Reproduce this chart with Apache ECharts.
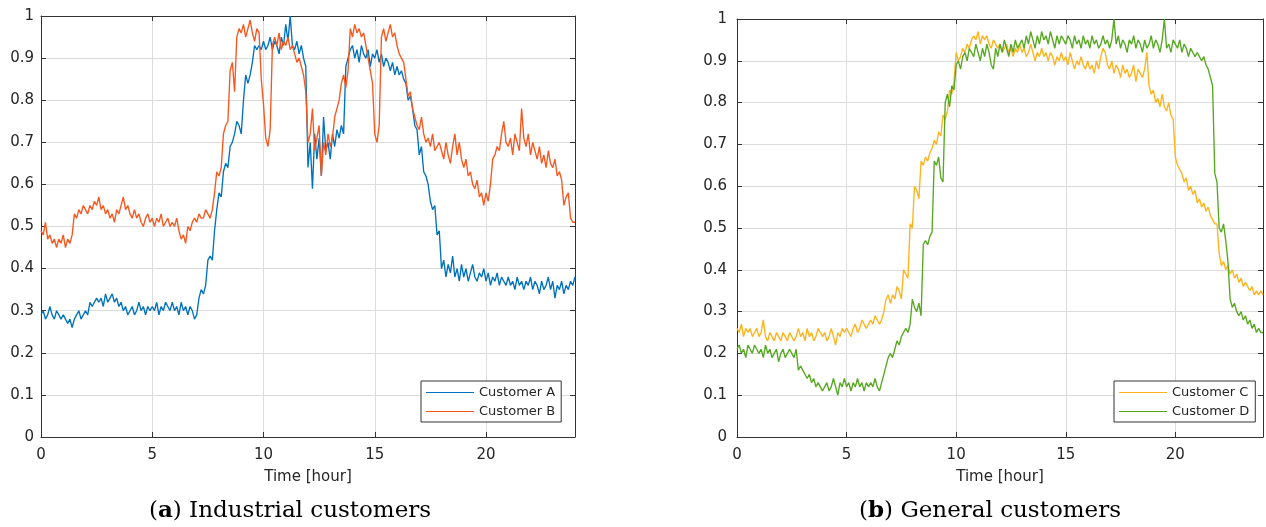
<!DOCTYPE html>
<html>
<head>
<meta charset="utf-8">
<script src="https://cdn.jsdelivr.net/npm/echarts@6/dist/echarts.min.js"></script>
<style>
  html, body { margin: 0; padding: 0; background: #fff; }
  #chart { width: 1266px; height: 527px; }
</style>
</head>
<body>
<div id="chart"></div>
<script>
// Normalised load profiles, one sample every 0.1 h from 0 h to 24 h (241 samples).
const SAMPLE_STEP_H = 0.1;

const customerA = [
  0.29,0.30,0.28,0.29,0.31,0.29,0.28,0.30,0.29,0.28,
  0.29,0.28,0.27,0.28,0.26,0.28,0.29,0.30,0.28,0.29,
  0.30,0.29,0.32,0.31,0.32,0.33,0.32,0.33,0.31,0.34,
  0.32,0.33,0.34,0.32,0.33,0.31,0.32,0.30,0.31,0.29,
  0.30,0.31,0.29,0.30,0.32,0.30,0.31,0.29,0.31,0.30,
  0.31,0.30,0.32,0.29,0.31,0.30,0.32,0.31,0.30,0.32,
  0.30,0.31,0.29,0.32,0.30,0.31,0.29,0.31,0.30,0.28,
  0.29,0.33,0.35,0.34,0.36,0.42,0.43,0.42,0.49,0.54,
  0.58,0.57,0.63,0.65,0.64,0.69,0.70,0.72,0.75,0.74,
  0.72,0.80,0.86,0.84,0.86,0.89,0.93,0.92,0.93,0.92,
  0.94,0.92,0.93,0.95,0.92,0.94,0.93,0.91,0.95,0.93,
  0.98,0.94,1.00,0.93,0.92,0.94,0.91,0.93,0.90,0.88,
  0.64,0.70,0.59,0.72,0.66,0.71,0.62,0.76,0.68,0.70,
  0.66,0.72,0.69,0.73,0.71,0.74,0.72,0.88,0.90,0.92,
  0.93,0.90,0.92,0.89,0.93,0.91,0.90,0.92,0.88,0.91,
  0.90,0.92,0.89,0.91,0.88,0.90,0.89,0.87,0.89,0.86,
  0.88,0.86,0.87,0.85,0.84,0.80,0.81,0.78,0.74,0.73,
  0.67,0.69,0.63,0.62,0.60,0.56,0.54,0.55,0.48,0.49,
  0.40,0.42,0.38,0.41,0.39,0.43,0.38,0.40,0.37,0.41,
  0.38,0.40,0.37,0.39,0.41,0.38,0.37,0.39,0.38,0.40,
  0.37,0.39,0.36,0.38,0.37,0.39,0.36,0.38,0.37,0.36,
  0.38,0.36,0.37,0.35,0.38,0.36,0.37,0.35,0.37,0.36,
  0.38,0.35,0.37,0.36,0.34,0.37,0.35,0.36,0.38,0.35,
  0.37,0.33,0.36,0.35,0.37,0.34,0.36,0.35,0.37,0.36,
  0.38
];

const customerB = [
  0.49,0.48,0.51,0.47,0.48,0.46,0.47,0.45,0.47,0.46,
  0.48,0.45,0.47,0.46,0.48,0.53,0.52,0.54,0.53,0.55,
  0.54,0.53,0.55,0.54,0.56,0.55,0.57,0.54,0.55,0.53,
  0.54,0.52,0.53,0.51,0.54,0.53,0.55,0.57,0.54,0.55,
  0.53,0.52,0.54,0.52,0.53,0.51,0.50,0.52,0.53,0.51,
  0.52,0.50,0.52,0.51,0.53,0.50,0.51,0.52,0.50,0.51,
  0.50,0.52,0.49,0.47,0.48,0.46,0.50,0.49,0.51,0.52,
  0.51,0.53,0.52,0.52,0.54,0.53,0.52,0.54,0.58,0.63,
  0.62,0.64,0.72,0.74,0.75,0.87,0.89,0.82,0.95,0.97,
  0.96,0.98,0.95,0.97,0.99,0.96,0.94,0.97,0.96,0.85,
  0.79,0.71,0.69,0.73,0.93,0.95,0.93,0.96,0.92,0.94,
  0.93,0.95,0.92,0.93,0.91,0.89,0.90,0.88,0.86,0.82,
  0.70,0.72,0.78,0.68,0.71,0.74,0.62,0.70,0.67,0.72,
  0.69,0.71,0.76,0.78,0.80,0.84,0.86,0.83,0.87,0.97,
  0.95,0.98,0.96,0.97,0.95,0.96,0.93,0.90,0.87,0.84,
  0.72,0.70,0.74,0.95,0.97,0.94,0.96,0.98,0.95,0.96,
  0.93,0.91,0.90,0.89,0.85,0.81,0.82,0.78,0.76,0.74,
  0.73,0.76,0.72,0.70,0.71,0.69,0.72,0.68,0.69,0.70,
  0.68,0.66,0.70,0.67,0.65,0.69,0.72,0.67,0.70,0.66,
  0.64,0.66,0.62,0.63,0.60,0.59,0.61,0.57,0.58,0.55,
  0.58,0.56,0.60,0.66,0.67,0.69,0.68,0.72,0.75,0.70,
  0.69,0.71,0.67,0.72,0.70,0.68,0.78,0.71,0.69,0.72,
  0.67,0.70,0.68,0.66,0.69,0.65,0.67,0.64,0.68,0.65,
  0.64,0.66,0.62,0.63,0.61,0.55,0.57,0.58,0.52,0.51,
  0.51
];

const customerC = [
  0.26,0.25,0.27,0.24,0.26,0.25,0.26,0.24,0.25,0.26,
  0.24,0.25,0.28,0.24,0.23,0.25,0.24,0.23,0.25,0.24,
  0.23,0.25,0.24,0.23,0.25,0.24,0.23,0.24,0.26,0.24,
  0.25,0.23,0.26,0.24,0.25,0.23,0.24,0.26,0.25,0.24,
  0.25,0.23,0.24,0.26,0.24,0.22,0.25,0.24,0.26,0.25,
  0.26,0.25,0.24,0.26,0.27,0.25,0.26,0.28,0.27,0.26,
  0.27,0.28,0.27,0.29,0.28,0.27,0.28,0.30,0.33,0.34,
  0.32,0.34,0.33,0.36,0.35,0.33,0.40,0.39,0.38,0.51,
  0.50,0.60,0.59,0.57,0.66,0.65,0.67,0.66,0.68,0.69,
  0.71,0.70,0.73,0.72,0.77,0.76,0.78,0.83,0.82,0.85,
  0.92,0.90,0.91,0.93,0.92,0.94,0.93,0.95,0.96,0.95,
  0.97,0.94,0.96,0.95,0.96,0.94,0.93,0.95,0.94,0.93,
  0.94,0.92,0.93,0.94,0.92,0.93,0.91,0.93,0.92,0.94,
  0.92,0.93,0.91,0.92,0.94,0.92,0.90,0.92,0.91,0.93,
  0.91,0.92,0.90,0.92,0.91,0.89,0.91,0.90,0.92,0.90,
  0.91,0.89,0.92,0.90,0.88,0.90,0.89,0.91,0.89,0.88,
  0.90,0.88,0.89,0.87,0.90,0.88,0.91,0.93,0.92,0.89,
  0.88,0.90,0.87,0.89,0.88,0.86,0.89,0.87,0.88,0.86,
  0.87,0.89,0.85,0.88,0.87,0.86,0.88,0.92,0.84,0.82,
  0.83,0.80,0.81,0.79,0.82,0.79,0.78,0.80,0.77,0.76,
  0.67,0.65,0.64,0.63,0.61,0.62,0.59,0.60,0.58,0.59,
  0.56,0.57,0.55,0.56,0.54,0.55,0.53,0.52,0.51,0.51,
  0.44,0.41,0.42,0.40,0.41,0.39,0.40,0.38,0.39,0.37,
  0.38,0.36,0.37,0.36,0.35,0.36,0.34,0.35,0.34,0.35,
  0.34
];

const customerD = [
  0.21,0.22,0.20,0.21,0.19,0.22,0.21,0.20,0.22,0.21,
  0.20,0.21,0.19,0.22,0.20,0.21,0.19,0.20,0.21,0.18,
  0.20,0.21,0.19,0.20,0.21,0.20,0.19,0.21,0.16,0.17,
  0.16,0.15,0.14,0.15,0.13,0.14,0.12,0.13,0.12,0.11,
  0.12,0.13,0.11,0.12,0.14,0.12,0.10,0.13,0.12,0.14,
  0.12,0.13,0.11,0.13,0.12,0.14,0.12,0.13,0.11,0.13,
  0.12,0.13,0.12,0.14,0.12,0.11,0.13,0.15,0.17,0.19,
  0.20,0.19,0.21,0.23,0.22,0.24,0.25,0.26,0.25,0.27,
  0.33,0.31,0.30,0.32,0.29,0.46,0.47,0.46,0.48,0.49,
  0.66,0.65,0.67,0.62,0.61,0.80,0.82,0.79,0.84,0.83,
  0.89,0.90,0.88,0.91,0.92,0.90,0.93,0.92,0.91,0.94,
  0.92,0.90,0.93,0.91,0.94,0.92,0.89,0.88,0.93,0.91,
  0.94,0.92,0.95,0.93,0.91,0.94,0.92,0.95,0.93,0.94,
  0.95,0.93,0.96,0.94,0.97,0.95,0.93,0.96,0.94,0.97,
  0.95,0.96,0.94,0.97,0.95,0.93,0.96,0.94,0.96,0.95,
  0.94,0.96,0.95,0.93,0.96,0.94,0.95,0.93,0.96,0.94,
  0.95,0.93,0.96,0.94,0.95,0.93,0.94,0.96,0.94,0.95,
  0.93,0.95,1.00,0.94,0.96,0.93,0.95,0.94,0.92,0.95,
  0.94,0.96,0.93,0.95,0.94,0.92,0.95,0.93,0.94,0.96,
  0.93,0.95,0.94,0.92,0.95,1.00,0.93,0.94,0.92,0.95,
  0.94,0.93,0.95,0.92,0.94,0.93,0.91,0.93,0.92,0.91,
  0.92,0.91,0.90,0.91,0.89,0.88,0.86,0.84,0.63,0.61,
  0.50,0.49,0.51,0.47,0.42,0.33,0.31,0.32,0.30,0.29,
  0.30,0.28,0.29,0.27,0.28,0.26,0.27,0.25,0.26,0.25,
  0.25
];

const xTicks = [0, 5, 10, 15, 20];
const panelCaptions = [
  { tag: 'a', text: 'Industrial customers' },
  { tag: 'b', text: 'General customers' }
];
const seriesNames = ['Customer A', 'Customer B', 'Customer C', 'Customer D'];
const seriesColors = ['#0072BD', '#F8561C', '#FFB21A', '#55A81F'];

const AXIS_COLOR = '#333333';
const LABEL_COLOR = '#262626';
const GRID_COLOR = '#dcdcdc';
const SANS = 'DejaVu Sans';
const SERIF = 'DejaVu Serif';

function toPoints(values) {
  return values.map((v, i) => [+(i * SAMPLE_STEP_H).toFixed(1), v]);
}

const panels = [
  { left: 41, top: 16, width: 534, height: 421, yMargin: 7 },
  { left: 737, top: 19, width: 531, height: 418, yMargin: 10 }
];

const grids = panels.map(p => ({ left: p.left, top: p.top, width: p.width, height: p.height, containLabel: false }));

const xAxes = [];
const yAxes = [];
panels.forEach((p, g) => {
  // bottom axis with labels and grid lines
  xAxes.push({
    gridIndex: g, type: 'value', min: 0, max: 24, interval: 5, position: 'bottom',
    name: 'Time [hour]', nameLocation: 'middle', nameGap: 33,
    nameTextStyle: { fontFamily: SANS, fontSize: 15, color: LABEL_COLOR },
    axisLine: { show: true, onZero: false, lineStyle: { color: AXIS_COLOR, width: 1 } },
    axisTick: { show: true, inside: true, length: 5, lineStyle: { color: AXIS_COLOR } },
    axisLabel: {
      margin: 11, fontFamily: SANS, fontSize: 15, color: LABEL_COLOR,
      formatter: v => (xTicks.indexOf(v) >= 0 ? String(v) : '')
    },
    splitLine: { show: true, lineStyle: { color: GRID_COLOR, width: 1 } }
  });
  // top box edge with inward ticks
  xAxes.push({
    gridIndex: g, type: 'value', min: 0, max: 24, interval: 5, position: 'top',
    axisLine: { show: true, onZero: false, lineStyle: { color: AXIS_COLOR, width: 1 } },
    axisTick: { show: true, inside: true, length: 5, lineStyle: { color: AXIS_COLOR } },
    axisLabel: { show: false }, splitLine: { show: false }
  });
  yAxes.push({
    gridIndex: g, type: 'value', min: 0, max: 1, interval: 0.1, position: 'left',
    axisLine: { show: true, onZero: false, lineStyle: { color: AXIS_COLOR, width: 1 } },
    axisTick: { show: true, inside: true, length: 5, lineStyle: { color: AXIS_COLOR } },
    axisLabel: {
      margin: p.yMargin, fontFamily: SANS, fontSize: 15, color: LABEL_COLOR,
      formatter: v => (v === 0 ? '0' : v === 1 ? '1' : v.toFixed(1))
    },
    splitLine: { show: true, lineStyle: { color: GRID_COLOR, width: 1 } }
  });
  // right box edge with inward ticks
  yAxes.push({
    gridIndex: g, type: 'value', min: 0, max: 1, interval: 0.1, position: 'right',
    axisLine: { show: true, onZero: false, lineStyle: { color: AXIS_COLOR, width: 1 } },
    axisTick: { show: true, inside: true, length: 5, lineStyle: { color: AXIS_COLOR } },
    axisLabel: { show: false }, splitLine: { show: false }
  });
});

const seriesData = [customerA, customerB, customerC, customerD];
const series = seriesData.map((vals, i) => {
  const g = i < 2 ? 0 : 1;
  return {
    name: seriesNames[i], type: 'line',
    xAxisIndex: g * 2, yAxisIndex: g * 2,
    data: toPoints(vals),
    symbol: 'none', showSymbol: false,
    lineStyle: { color: seriesColors[i], width: 1.35 },
    itemStyle: { color: seriesColors[i] },
    emphasis: { disabled: true },
    animation: false
  };
});

const legendCommon = {
  orient: 'vertical', icon: 'path://M0,0L48,0L48,1L0,1Z',
  itemWidth: 48, itemHeight: 14, itemGap: 6,
  padding: [5, 6, 4, 5],
  backgroundColor: '#ffffff', borderColor: AXIS_COLOR, borderWidth: 1, borderRadius: 0,
  textStyle: { fontFamily: SANS, fontSize: 13, color: LABEL_COLOR, padding: [0, 0, 0, 0] },
  selectedMode: false
};

const captionGraphics = panelCaptions.map((c, i) => ({
  type: 'text',
  x: i === 0 ? 290 : 990, y: 511,
  style: {
    text: '{n|(}{b|' + c.tag + '}{n|) ' + c.text + '}',
    align: 'center', verticalAlign: 'middle',
    rich: {
      n: { fontFamily: SERIF, fontSize: 23, fill: '#000000' },
      b: { fontFamily: SERIF, fontSize: 23, fontWeight: 'bold', fill: '#000000' }
    }
  }
}));

const chart = echarts.init(document.getElementById('chart'), null, { renderer: 'canvas' });
chart.setOption({
  animation: false,
  backgroundColor: '#ffffff',
  grid: grids,
  xAxis: xAxes,
  yAxis: yAxes,
  legend: [
    Object.assign({}, legendCommon, { data: ['Customer A', 'Customer B'], left: 421, top: 381 }),
    Object.assign({}, legendCommon, { data: ['Customer C', 'Customer D'], left: 1114, top: 381 })
  ],
  graphic: captionGraphics,
  series: series
});
</script>
</body>
</html>
